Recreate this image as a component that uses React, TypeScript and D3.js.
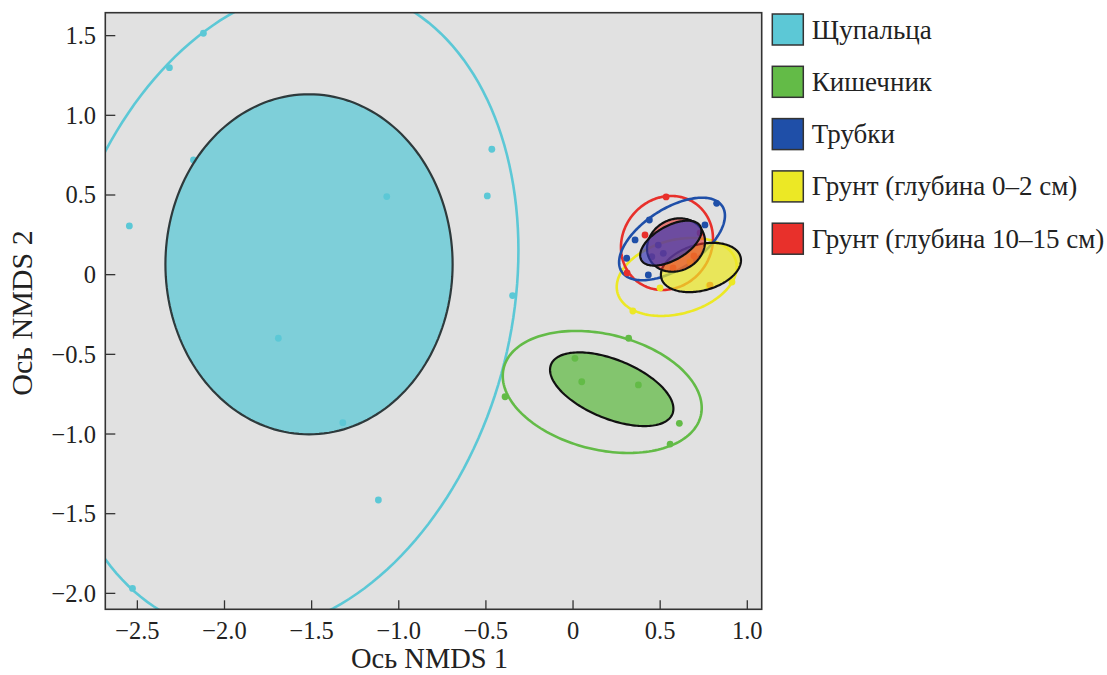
import React from "react";
import * as d3 from "d3";

// ---- data ----
const groupNames = [
  "Щупальца",
  "Кишечник",
  "Трубки",
  "Грунт (глубина 0–2 см)",
  "Грунт (глубина 10–15 см)",
];
const groupColors = ["#5cc8d6", "#63bb47", "#1f4fa8", "#ece825", "#e8302b"];
const fillColors = ["#5cc8d6", "#63bb47", "#3a3ab4", "#ece825", "#e8302b"];
const fillOpacity = [0.75, 0.75, 0.7, 0.72, 0.6];

const xTicks = [-2.5, -2.0, -1.5, -1.0, -0.5, 0, 0.5, 1.0];
const yTicks = [1.5, 1.0, 0.5, 0, -0.5, -1.0, -1.5, -2.0];

// sample scores (NMDS1, NMDS2)
const tentaclePts = [
  [-2.121, 1.515], [-2.316, 1.299], [-2.546, 0.306], [-2.178, 0.72],
  [-0.466, 0.787], [-0.492, 0.494], [-1.069, 0.49], [-0.347, -0.131],
  [-1.691, -0.399], [-1.321, -0.929], [-1.117, -1.414], [-2.528, -1.969],
];
const gutPts = [
  [0.319, -0.399], [-0.39, -0.766], [0.05, -0.672], [0.375, -0.692],
  [0.61, -0.933], [0.557, -1.063], [0.011, -0.525],
];
const tubePts = [
  [0.824, 0.448], [0.757, 0.312], [0.438, 0.343], [0.356, 0.218],
  [0.308, 0.103], [0.432, -0.002], [0.489, 0.186], [0.518, 0.134], [0.452, 0.113],
];
const soilTopPts = [
  [0.343, -0.228], [0.912, -0.046], [0.78, -0.071], [0.671, 0.08], [0.499, -0.083],
];
const soilDeepPts = [
  [0.534, 0.488], [0.31, 0.011], [0.694, 0.117], [0.786, -0.065],
  [0.574, 0.042], [0.729, 0.262], [0.413, 0.249],
];
const groupPoints = [tentaclePts, gutPts, tubePts, soilTopPts, soilDeepPts];

// outer (line) ellipses: centre and covariance [sxx, sxy, syy]
const outerCenters = [[-1.655, -0.22], [0.1675, -0.736], [0.568, 0.224], [0.595, -0.0144], [0.539, 0.199]];
const outerCov = [[1.80, 0.5, 4.12], [0.3259, -0.0573, 0.1466], [0.0922, 0.0444, 0.0671], [0.1185, 0.0216, 0.0599], [0.0697, 0.0072, 0.087]];
// inner (filled) ellipses
const innerCenters = [[-1.515, 0.065], [0.222, -0.719], [0.561, 0.198], [0.734, 0.045], [0.591, 0.186]];
const innerCov = [[0.679, 0, 1.139], [0.1253, -0.0432, 0.0535], [0.0309, 0.0135, 0.0199], [0.0528, 0.0104, 0.0239], [0.0277, 0.0036, 0.0281]];

const W = 1107;
const H = 675;
const L = 105.3, R = 761.7, T = 12.7, B = 609.3;

const x = d3.scaleLinear().domain([-2.684, 1.0826]).range([L, R]);
const y = d3.scaleLinear().domain([-2.1, 1.644]).range([B, T]);

function ellipsePath(c: number[], cov: number[]) {
  const l11 = Math.sqrt(cov[0]);
  const l21 = cov[1] / l11;
  const l22 = Math.sqrt(cov[2] - l21 * l21);
  const pts: [number, number][] = d3.range(0, 180).map((i) => {
    const t = (i / 180) * 2 * Math.PI;
    const dx = l11 * Math.cos(t);
    const dy = l21 * Math.cos(t) + l22 * Math.sin(t);
    return [x(c[0] + dx), y(c[1] + dy)];
  });
  return d3.line().curve(d3.curveLinearClosed)(pts) || "";
}

const fmt = (v: number) => (v === 0 ? "0" : (v < 0 ? "\u2212" : "") + Math.abs(v).toFixed(1));

const lineOrder = [0, 1, 3, 4, 2];
const fillOrder = [0, 1, 3, 4, 2];

export default function App() {
  const font = "'Liberation Serif', 'Times New Roman', serif";
  return (
    <svg width={W} height={H} style={{ position: "absolute", left: 0, top: 0, background: "#fff" }} fontFamily={font}>
      <defs>
        <clipPath id="plotclip">
          <rect x={L} y={T} width={R - L} height={B - T} />
        </clipPath>
      </defs>
      <rect x={L} y={T} width={R - L} height={B - T} fill="#e1e1e1" />
      <g clipPath="url(#plotclip)">
        {lineOrder.map((g) => (
          <path key={"o" + g} d={ellipsePath(outerCenters[g], outerCov[g])} fill="none" stroke={groupColors[g]} strokeWidth={2.6} />
        ))}
        {lineOrder.map((g) =>
          groupPoints[g].map((p, i) => (
            <circle key={"p" + g + "_" + i} cx={x(p[0])} cy={y(p[1])} r={3.4} fill={groupColors[g]} />
          ))
        )}
        {fillOrder.map((g) => (
          <path key={"i" + g} d={ellipsePath(innerCenters[g], innerCov[g])} fill={fillColors[g]} fillOpacity={fillOpacity[g]}
            stroke={g === 0 ? "#2e3a3c" : "#111"} strokeWidth={2.2} />
        ))}
      </g>
      {/* ticks */}
      {xTicks.map((t) => (
        <g key={"xt" + t}>
          <line x1={x(t)} x2={x(t)} y1={B} y2={B - 9} stroke="#333" strokeWidth={1.3} />
          <text x={x(t)} y={B + 30} textAnchor="middle" fontSize={24.5} fill="#222">{fmt(t)}</text>
        </g>
      ))}
      {yTicks.map((t) => (
        <g key={"yt" + t}>
          <line x1={L} x2={L + 10} y1={y(t)} y2={y(t)} stroke="#333" strokeWidth={1.3} />
          <text x={96} y={y(t) + 8.5} textAnchor="end" fontSize={24.5} fill="#222">{fmt(t)}</text>
        </g>
      ))}
      <rect x={L} y={T} width={R - L} height={B - T} fill="none" stroke="#333" strokeWidth={1.6} />
      <text x={(L + R) / 2 - 4} y={668} textAnchor="middle" fontSize={28.5} fill="#222">Ось NMDS 1</text>
      <text transform={`translate(32, ${(T + B) / 2 + 2}) rotate(-90)`} textAnchor="middle" fontSize={30} fill="#222">Ось NMDS 2</text>
      {/* legend */}
      {groupNames.map((name, i) => (
        <g key={"lg" + i} transform={`translate(772.3, ${14 + i * 52.3})`}>
          <rect x={0} y={0} width={31} height={31} fill={groupColors[i]} stroke="#333" strokeWidth={1.5} />
          <text x={39.5} y={24.5} fontSize={27} fill="#222">{name}</text>
        </g>
      ))}
    </svg>
  );
}
